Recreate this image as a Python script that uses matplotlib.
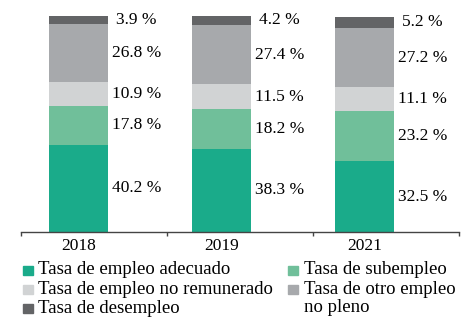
import matplotlib.pyplot as plt
from matplotlib.patches import Rectangle
import numpy as np

# datos
years = ['2018', '2019', '2021']
series = ['Tasa de empleo adecuado', 'Tasa de subempleo', 'Tasa de empleo no remunerado',
          'Tasa de otro empleo\nno pleno', 'Tasa de desempleo']
adecuado = [40.2, 38.3, 32.5]
subempleo = [17.8, 18.2, 23.2]
no_remunerado = [10.9, 11.5, 11.1]
otro_no_pleno = [26.8, 27.4, 27.2]
desempleo = [3.9, 4.2, 5.2]
colors = ['#1aab8a', '#70bf9a', '#d1d3d4', '#a7a9ac', '#636466']

plt.rcParams['font.family'] = ['Liberation Serif', 'DejaVu Serif']

fig = plt.figure(figsize=(4.71, 3.24), dpi=100)
ax = fig.add_axes([20.7 / 471, 92 / 324, (459 - 20.7) / 471, 217 / 324])

x = np.array([0, 1, 2])
w = 0.413
bottom = np.zeros(3)
for vals, col in zip([adecuado, subempleo, no_remunerado, otro_no_pleno, desempleo], colors):
    ax.bar(x, vals, width=w, bottom=bottom, color=col, linewidth=0)
    for xi, b, v in zip(x, bottom, vals):
        ax.text(xi + w / 2 + 0.2, b + v / 2, f'{v:.1f} %', ha='center', va='center', fontsize=12.5)
    bottom += np.array(vals)

ax.set_xlim(-0.403, 2.662)
ax.set_ylim(0, 100)
for s in ['top', 'right', 'left']:
    ax.spines[s].set_visible(False)
ax.spines['bottom'].set_color('#444444')
ax.spines['bottom'].set_linewidth(1)
ax.set_yticks([])
ax.set_xticks(x)
ax.set_xticklabels(years, fontsize=12.5)
ax.tick_params(axis='x', which='major', length=0, pad=4)
ax.set_xticks([-0.403, 0.618, 1.639, 2.662], minor=True)
ax.tick_params(axis='x', which='minor', length=3, width=1, color='#444444')

# leyenda (orden por filas, dos columnas)
pos = [(22.5, 270), (287.5, 270), (22.5, 289), (287.5, 289), (22.5, 308.5)]
for (px, py), name, col in zip(pos, series, colors):
    fig.patches.append(Rectangle((px / 471, 1 - (py + 4.5) / 324), 10 / 471, 9 / 324,
                                 transform=fig.transFigure, color=col, figure=fig))
    for i, line in enumerate(name.split('\n')):
        fig.text((px + 16) / 471, 1 - (py + 4.5 + 19 * i) / 324, line, fontsize=13.5,
                 va='baseline', ha='left')

fig.savefig('out.png', dpi=100)
